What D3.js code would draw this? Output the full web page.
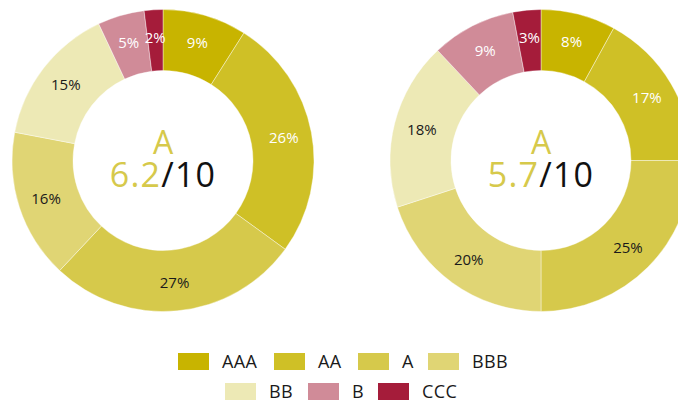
<!DOCTYPE html>
<html>
<head>
<meta charset="utf-8">
<script src="https://cdn.jsdelivr.net/npm/d3@7"></script>
<style>
    body { margin: 0; background: #fff; }
    svg { display: block; font-family: "Open Sans", sans-serif; }
</style>
</head>
<body>
<svg id="chart" width="678" height="402"></svg>
<script>

const ratings = ["AAA", "AA", "A", "BBB", "BB", "B", "CCC"];
const colors = ["#c8b400", "#cfc026", "#d6c94b", "#e0d574", "#ede9b5", "#d08b98", "#a51c3a"];
const labelColors = ["#fff", "#fff", "#1a1a1a", "#1a1a1a", "#1a1a1a", "#fff", "#fff"];

const leftShares = [9, 26, 27, 16, 15, 5, 2];
const rightShares = [8, 17, 25, 20, 18, 9, 3];

const donuts = [
    {cx: 163, shares: leftShares, grade: "A", score: "6.2", outOf: "/10"},
    {cx: 541, shares: rightShares, grade: "A", score: "5.7", outOf: "/10"}
];

const svg = d3.select("#chart");
const cy = 160.5;
const outerR = 151;
const innerR = 90;

const color = d3.scaleOrdinal().domain(ratings).range(colors);
const pie = d3.pie().sort(null).value(d => d.value);
const arc = d3.arc().innerRadius(innerR).outerRadius(outerR);
const labelArc = d3.arc().innerRadius(123).outerRadius(123);

donuts.forEach(donut => {
    let g = svg.append("g").attr("transform", `translate(${donut.cx},${cy})`);
    let data = pie(ratings.map((r, i) => ({rating: r, value: donut.shares[i], idx: i})));

    g.selectAll("path")
        .data(data)
        .join("path")
        .attr("d", arc)
        .attr("fill", d => color(d.data.rating))
        .attr("stroke", "#fff")
        .attr("stroke-width", 0.4);

    g.selectAll("text.pct")
        .data(data)
        .join("text")
        .attr("class", "pct")
        .attr("transform", d => `translate(${labelArc.centroid(d)})`)
        .attr("text-anchor", "middle")
        .attr("dy", "0.35em")
        .attr("font-size", 15)
        .attr("fill", d => labelColors[d.data.idx])
        .text(d => d.data.value + "%");

    // centre text
    g.append("text")
        .attr("text-anchor", "middle")
        .attr("y", -7)
        .attr("font-size", 32)
        .attr("fill", "#d6c94b")
        .text(donut.grade);

    let t = g.append("text")
        .attr("text-anchor", "middle")
        .attr("y", 26)
        .attr("font-size", 34)
        .attr("letter-spacing", 1.2);
    t.append("tspan").attr("fill", "#d6c94b").text(donut.score);
    t.append("tspan").attr("fill", "#111").text(donut.outOf);
});

// legend
const legendRows = [ratings.slice(0, 4), ratings.slice(4)];
const rowStarts = [178, 225];
const rowY = [353, 383];
const itemGap = [[0, 96, 180, 250], [0, 83, 153]];

legendRows.forEach((row, r) => {
    row.forEach((name, i) => {
        let x = rowStarts[r] + itemGap[r][i];
        let item = svg.append("g").attr("transform", `translate(${x},${rowY[r]})`);
        item.append("rect")
            .attr("width", 31)
            .attr("height", 17)
            .attr("fill", color(name));
        item.append("text")
            .attr("x", 44)
            .attr("y", 8.5)
            .attr("dy", "0.36em")
            .attr("font-size", 18)
            .attr("letter-spacing", 0.4)
            .attr("fill", "#1a1a1a")
            .text(name);
    });
});

</script>
</body>
</html>
